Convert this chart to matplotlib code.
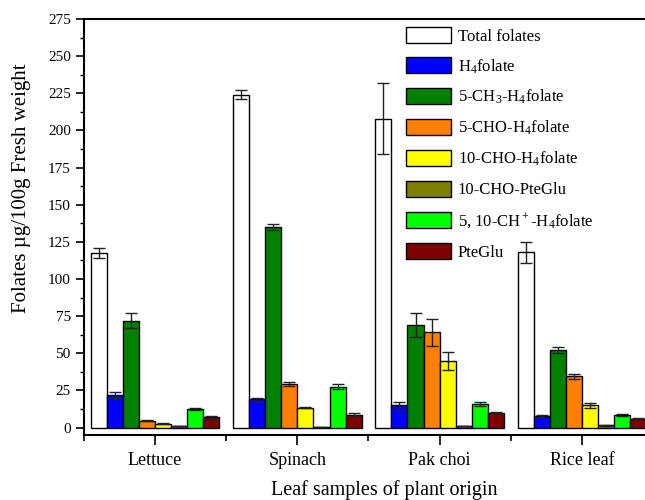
import numpy as np
import matplotlib
matplotlib.use("Agg")
from matplotlib import pyplot as plt
from matplotlib.ticker import MultipleLocator

plt.rcParams['font.family'] = ['Liberation Serif', 'DejaVu Serif']
plt.rcParams['mathtext.fontset'] = 'custom'
plt.rcParams['mathtext.rm'] = 'Liberation Serif'
plt.rcParams['mathtext.it'] = 'Liberation Serif:italic'

samples = ['Lettuce', 'Spinach', 'Pak choi', 'Rice leaf']
forms = ['Total folates', r'H$_4$folate', r'5-CH$_3$-H$_4$folate',
         r'5-CHO-H$_4$folate', r'10-CHO-H$_4$folate', '10-CHO-PteGlu',
         r'5, 10-CH$^+$-H$_4$folate', 'PteGlu']
colors = ['#FFFFFF', '#0000FF', '#007F00', '#FF7F00', '#FFFF00',
          '#7F7F00', '#00FF00', '#7F0000']

# mean content per form, one list per sample
lettuce = [117.5, 22, 72, 4.5, 2.5, 1.0, 12.5, 7]
spinach = [224, 19, 135, 29.5, 13.5, 0.5, 27.5, 8.5]
pak_choi = [208, 15, 69, 64, 45, 1.0, 16, 10]
rice_leaf = [118, 8, 52, 34.5, 15, 1.5, 8.5, 6]

lettuce_err = [3.5, 2, 5, 0.4, 0.3, 0.2, 0.5, 1]
spinach_err = [3, 1, 2, 1.5, 0.5, 0.2, 1.5, 1]
pak_choi_err = [24, 2.5, 8, 9, 6, 0.2, 1.5, 0.3]
rice_leaf_err = [7, 0.6, 2, 1.5, 1.5, 0.2, 0.6, 0.5]

values = np.array([lettuce, spinach, pak_choi, rice_leaf])
errors = np.array([lettuce_err, spinach_err, pak_choi_err, rice_leaf_err])

fig = plt.figure(figsize=(6.45, 5.0), dpi=100)
# plot area runs a little past the right edge of the figure
ax = fig.add_axes([84 / 645, 1 - 435 / 500, 569 / 645, 416 / 500])

x = np.arange(1, len(samples) + 1)
width = 0.113
for i, (name, c) in enumerate(zip(forms, colors)):
    pos = x + (i - 3.5) * width
    ax.bar(pos, values[:, i], width, color=c, edgecolor='black',
           linewidth=1.0, label=name, zorder=2)
    ax.errorbar(pos, values[:, i], yerr=errors[:, i], fmt='none',
                ecolor='#222222', elinewidth=1.0, capsize=4, capthick=1.0,
                zorder=3)

ax.set_xlim(0.5, 4.5)
ax.set_ylim(-5, 275)
ax.set_xticks(x)
ax.set_xticklabels(samples, fontsize=13)
ax.set_xticks(np.arange(0.5, 5, 1), minor=True)
ax.yaxis.set_major_locator(MultipleLocator(25))
ax.yaxis.set_minor_locator(MultipleLocator(12.5))
ax.tick_params(axis='y', labelsize=11, direction='out', width=1.2, length=6)
ax.tick_params(axis='y', which='minor', direction='out', width=1.0, length=3)
ax.tick_params(axis='x', which='major', direction='out', width=1.2, length=7,
               pad=5)
ax.tick_params(axis='x', which='minor', direction='out', width=1.2, length=4)
for s in ax.spines.values():
    s.set_linewidth(1.5)

fig.text(384 / 645, 1 - 490 / 500, 'Leaf samples of plant origin',
         fontsize=14.5, ha='center', va='center')
fig.text(22 / 645, 1 - 188 / 500, 'Folates µg/100g Fresh weight',
         fontsize=15, ha='center', va='center', rotation=90)

ax.legend(loc='upper left', bbox_to_anchor=(406 / 645, 1 - 27 / 500),
          bbox_transform=fig.transFigure, frameon=False, fontsize=12,
          handlelength=2.7, handleheight=1.1, handletextpad=0.4,
          labelspacing=0.75, borderpad=0, borderaxespad=0)

fig.savefig('out.png', dpi=100)
